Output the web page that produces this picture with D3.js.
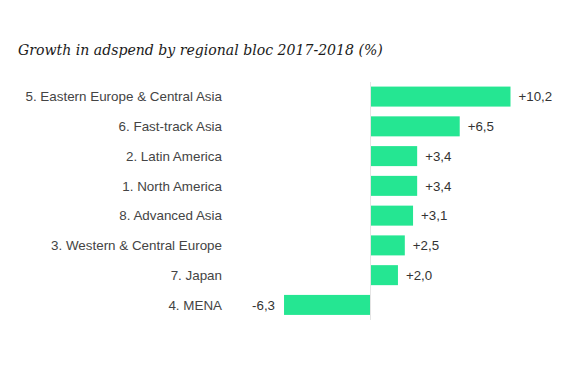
<!DOCTYPE html>
<html><head><meta charset="utf-8">
<script src="https://cdn.jsdelivr.net/npm/d3@7"></script>
<style>body{margin:0;background:#fff}</style>
</head><body>
<svg id="c" width="570" height="380"></svg>
<script>
const categories = ["5. Eastern Europe & Central Asia","6. Fast-track Asia","2. Latin America","1. North America","8. Advanced Asia","3. Western & Central Europe","7. Japan","4. MENA"];
const values = [10.2, 6.5, 3.4, 3.4, 3.1, 2.5, 2.0, -6.3];
const valueLabels = ["+10,2","+6,5","+3,4","+3,4","+3,1","+2,5","+2,0","-6,3"];
const title = "Growth in adspend by regional bloc 2017-2018 (%)";

const svg = d3.select("#c");
const t = svg.append("text").attr("x",18).attr("y",55)
  .attr("font-family","'DejaVu Serif', serif").attr("font-style","italic")
  .attr("font-size",20).attr("fill","#1a1a1a").text(title);
const tw = t.node().getComputedTextLength();
t.attr("font-size", 20*365/tw);

const x = d3.scaleLinear().domain([0,10.2]).range([370.5,510.5]);
const y = d3.scaleBand().domain(categories).range([81.7,319.8]).paddingInner(0.328).paddingOuter(0.164);

svg.append("line").attr("x1",x(0)).attr("x2",x(0)).attr("y1",82).attr("y2",320)
  .attr("stroke","#e4e4e4").attr("stroke-width",1);

svg.selectAll("rect.bar").data(values).join("rect").attr("class","bar")
  .attr("x",d=>Math.min(x(0),x(d))+ (d>0?0.5:0)).attr("width",d=>Math.abs(x(d)-x(0))-0.5)
  .attr("y",(d,i)=>y(categories[i])).attr("height",y.bandwidth())
  .attr("fill","#25e692");

svg.selectAll("text.val").data(values).join("text").attr("class","val")
  .attr("x",d=>d>=0?x(d)+8:x(d)-9)
  .attr("y",(d,i)=>y(categories[i])+y.bandwidth()/2)
  .attr("dy","0.35em").attr("text-anchor",d=>d>=0?"start":"end")
  .attr("font-family","'Liberation Sans', Arial, sans-serif").attr("font-size",13.3)
  .attr("fill","#333").text((d,i)=>valueLabels[i]);

svg.selectAll("text.cat").data(categories).join("text").attr("class","cat")
  .attr("x",222).attr("y",d=>y(d)+y.bandwidth()/2).attr("dy","0.35em")
  .attr("text-anchor","end")
  .attr("font-family","'Liberation Sans', Arial, sans-serif").attr("font-size",13.4)
  .attr("fill","#444").text(d=>d);
</script>
</body></html>
